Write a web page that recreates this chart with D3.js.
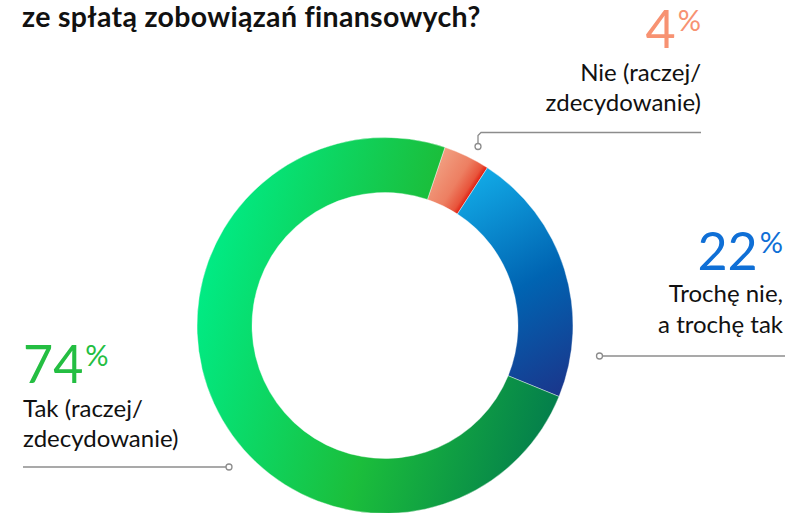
<!DOCTYPE html>
<html>
<head>
<meta charset="utf-8">
<script src="https://cdn.jsdelivr.net/npm/d3@7"></script>
<style>
  html, body { margin: 0; padding: 0; background: #fff; }
  svg { display: block; font-family: Lato, "DejaVu Sans", sans-serif; }
</style>
</head>
<body>
<svg id="chart" width="798" height="513"></svg>
<script>
// ---- data ----
const title = "ze spłatą zobowiązań finansowych?";
const categories = ["Nie (raczej/ zdecydowanie)", "Trochę nie, a trochę tak", "Tak (raczej/ zdecydowanie)"];
const values = [4, 22, 74];
const labelLines = [["Nie (raczej/", "zdecydowanie)"], ["Trochę nie,", "a trochę tak"], ["Tak (raczej/", "zdecydowanie)"]];
const valueColors = ["#f79272", "#0f6fd6", "#24be42"];

// ---- layout ----
const W = 798, H = 513;
const cx = 385, cy = 325.5, R = 188, r = 133;
const startOffset = 18.6 * Math.PI / 180;

const svg = d3.select("#chart");
const defs = svg.append("defs");

function grad(id, x1, y1, x2, y2, stops) {
  const g = defs.append("linearGradient").attr("id", id)
    .attr("gradientUnits", "userSpaceOnUse")
    .attr("x1", x1).attr("y1", y1).attr("x2", x2).attr("y2", y2);
  stops.forEach(s => g.append("stop").attr("offset", s[0]).attr("stop-color", s[1]));
}
grad("gNie", 45, -165, 89, -137, [[0, "#f2a688"], [0.65, "#ed7f62"], [0.9, "#e8543b"], [1, "#e01c10"]]);
grad("gTro", 70, -140, 190, 70, [[0, "#12aae6"], [0.5, "#0064b2"], [1, "#1c3389"]]);
grad("gTak", -188, -45, 185, 55, [[0, "#00ec86"], [0.53, "#1bbe3b"], [1, "#037c4c"]]);
const fills = ["url(#gNie)", "url(#gTro)", "url(#gTak)"];

// title
const tt = svg.append("text")
  .attr("x", 22).attr("y", 27)
  .attr("font-size", 28.5).attr("font-weight", 700).attr("fill", "#111")
  .text(title);
const targetW = 458;
const curW = tt.node().getComputedTextLength();
tt.attr("letter-spacing", ((targetW - curW) / (title.length - 1)).toFixed(3));

// donut
const pie = d3.pie().sort(null).value(d => d)
  .startAngle(startOffset).endAngle(startOffset + 2 * Math.PI);
const arc = d3.arc().innerRadius(r).outerRadius(R);
const g = svg.append("g").attr("transform", `translate(${cx},${cy})`);
g.selectAll("path").data(pie(values)).join("path")
  .attr("d", arc)
  .attr("fill", (d, i) => fills[i])
  .attr("stroke", "#ffffff").attr("stroke-width", 0.4);

// labels (layout positions)
const labelLayout = [
  { anchor: "end", x: 701, numY: 48, l1: 81, l2: 111, line: [[701, 132.5], [481, 132.5], [478, 135.5], [478, 146.5]] },
  { anchor: "end", x: 783, numY: 270, l1: 302, l2: 333, line: [[785, 356], [599.5, 356]] },
  { anchor: "start", x: 23, numY: 383, l1: 417, l2: 447, line: [[23, 467], [229, 467]] }
];

const lab = svg.append("g");
values.forEach((v, i) => {
  const L = labelLayout[i];
  const t = lab.append("text")
    .attr("x", L.x).attr("y", L.numY)
    .attr("text-anchor", L.anchor)
    .attr("fill", valueColors[i]);
  t.append("tspan").attr("font-size", 52).attr("font-weight", 400).text(v);
  t.append("tspan").attr("font-size", 29).attr("dy", -17).attr("dx", 2).text("%");
  labelLines[i].forEach((s, j) => {
    lab.append("text")
      .attr("x", L.x).attr("y", j === 0 ? L.l1 : L.l2)
      .attr("text-anchor", L.anchor)
      .attr("font-size", 24).attr("fill", "#111")
      .text(s);
  });
  const pts = L.line;
  lab.append("path")
    .attr("d", d3.line()(pts))
    .attr("fill", "none").attr("stroke", "#8c8c8c").attr("stroke-width", 1.3);
  const end = pts[pts.length - 1];
  lab.append("circle")
    .attr("cx", end[0]).attr("cy", end[1]).attr("r", 3)
    .attr("fill", "#fff").attr("stroke", "#8c8c8c").attr("stroke-width", 1.3);
});
</script>
</body>
</html>
